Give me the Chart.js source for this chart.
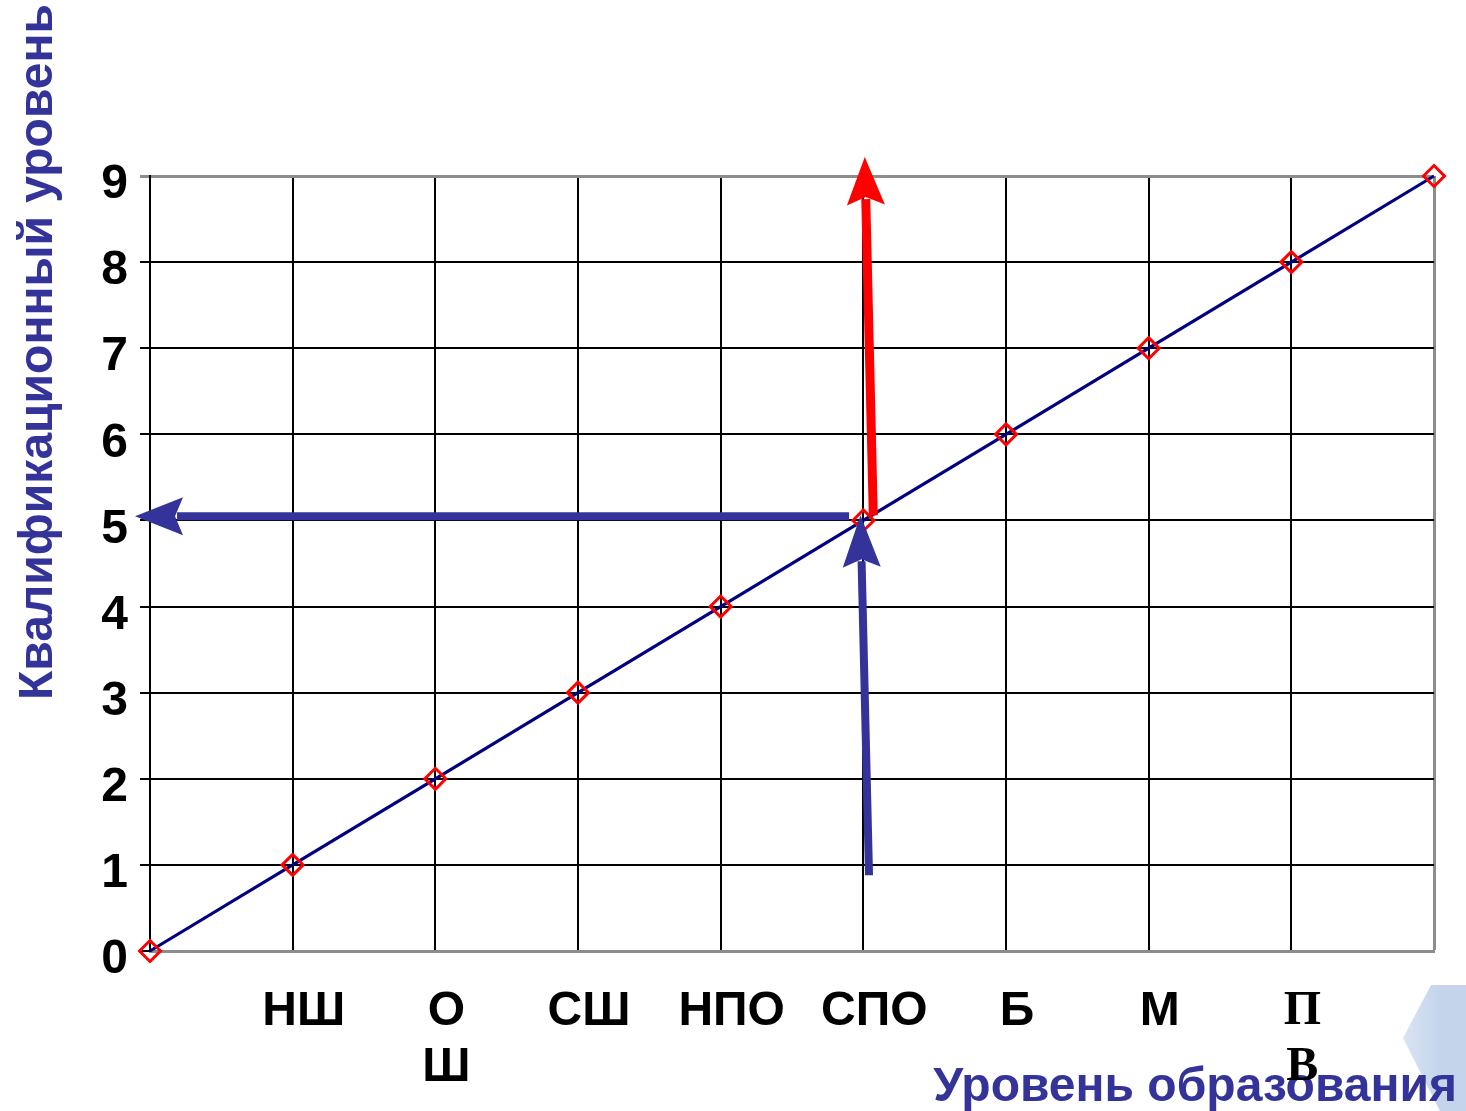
<!DOCTYPE html>
<html>
<head>
<meta charset="utf-8">
<script src="https://cdn.jsdelivr.net/npm/chart.js@4.4.1/dist/chart.umd.min.js"></script>
<style>
html,body{margin:0;padding:0;background:#fff;}
#wrap{width:1466px;height:1111px;position:relative;}
</style>
</head>
<body>
<div id="wrap"><canvas id="c"></canvas></div>
<script>
// categories (education levels) along x
const categories = ['', 'НШ', ['О', 'Ш'], 'СШ', 'НПО', 'СПО', 'Б', 'М', ['П', 'В'], ''];
// qualification level for each education level
const qualification = [0, 1, 2, 3, 4, 5, 6, 7, 8, 9];
// y tick values
const yTicks = [0, 1, 2, 3, 4, 5, 6, 7, 8, 9];
const yTitle = 'Квалификационный уровень';
const xTitle = 'Уровень образования';
// annotation arrows in data units: [fromX, fromY, toX, toY]
const arrowBlueH = [4.90, 5.05, -0.105, 5.05];
const arrowBlueV = [5.04, 0.88, 4.98, 5.06];
const arrowRed = [5.07, 5.06, 5.01, 9.22];

const TITLE_COLOR = '#333399';
const SANS = "'Liberation Sans', Arial, sans-serif";

function drawArrow(ctx, x1, y1, x2, y2, color, shaft, headLen, headW) {
  const ang = Math.atan2(y2 - y1, x2 - x1);
  const bx = x2 - Math.cos(ang) * headLen, by = y2 - Math.sin(ang) * headLen;
  ctx.save();
  ctx.strokeStyle = color; ctx.fillStyle = color;
  ctx.lineWidth = shaft; ctx.lineCap = 'butt';
  ctx.beginPath(); ctx.moveTo(x1, y1); ctx.lineTo(bx + Math.cos(ang) * 6, by + Math.sin(ang) * 6); ctx.stroke();
  const px = -Math.sin(ang), py = Math.cos(ang);
  ctx.beginPath();
  ctx.moveTo(x2, y2);
  ctx.lineTo(bx + px * headW / 2, by + py * headW / 2);
  ctx.lineTo(bx + Math.cos(ang) * 8, by + Math.sin(ang) * 8);
  ctx.lineTo(bx - px * headW / 2, by - py * headW / 2);
  ctx.closePath(); ctx.fill();
  ctx.restore();
}

const decor = {
  id: 'decor',
  beforeDraw(chart) {
    const ctx = chart.ctx;
    ctx.save();
    // light blue decorative shape bottom right
    const g = ctx.createLinearGradient(1402, 0, 1440, 0);
    g.addColorStop(0, '#dbe5f3'); g.addColorStop(1, '#c3d4eb');
    ctx.fillStyle = g;
    ctx.beginPath();
    ctx.moveTo(1431, 985); ctx.lineTo(1466, 985); ctx.lineTo(1466, 1111);
    ctx.lineTo(1440, 1111); ctx.lineTo(1403, 1038); ctx.closePath(); ctx.fill();
    // x title
    ctx.fillStyle = TITLE_COLOR;
    ctx.font = 'bold 48px ' + SANS;
    ctx.textAlign = 'right'; ctx.textBaseline = 'alphabetic';
    ctx.fillText(xTitle, 1457, 1101);
    // y title
    ctx.translate(52, 352);
    ctx.rotate(-Math.PI / 2);
    ctx.textAlign = 'center';
    ctx.fillText(yTitle, 0, 0);
    ctx.restore();
  },
  afterDatasetsDraw(chart) {
    const ctx = chart.ctx, xs = chart.scales.x, ys = chart.scales.y;
    const P = a => [xs.getPixelForValue(a[0]), ys.getPixelForValue(a[1]), xs.getPixelForValue(a[2]), ys.getPixelForValue(a[3])];
    let p = P(arrowBlueH); drawArrow(ctx, p[0], p[1], p[2], p[3], '#333399', 8, 48, 38);
    p = P(arrowBlueV); drawArrow(ctx, p[0], p[1], p[2], p[3], '#333399', 8, 52, 38);
    p = P(arrowRed); drawArrow(ctx, p[0], p[1], p[2], p[3], '#ff0000', 9, 48, 38);
  }
};

new Chart(document.getElementById('c'), {
  type: 'line',
  data: {
    labels: categories,
    datasets: [{
      data: qualification,
      borderColor: '#000080',
      borderWidth: 3.2,
      pointStyle: 'rectRot',
      pointRadius: 10.5,
      pointBorderColor: '#ff0000',
      pointBackgroundColor: 'rgba(255,255,255,0)',
      pointBorderWidth: 3,
      tension: 0,
      clip: false
    }]
  },
  options: {
    responsive: true,
    maintainAspectRatio: false,
    animation: false,
    devicePixelRatio: 1,
    layout: { padding: { left: 0, top: 176, right: 24, bottom: 0 } },
    plugins: { legend: { display: false }, tooltip: { enabled: false } },
    scales: {
      x: {
        type: 'category',
        offset: false,
        afterFit(s) { s.height = 160; },
        grid: {
          offset: false,
          drawTicks: false,
          color: ctx => (ctx.index === 9 ? '#8c8c8c' : '#000'),
          lineWidth: ctx => (ctx.index === 9 ? 3 : 2)
        },
        border: { color: '#8c8c8c', width: 3 },
        ticks: {
          autoSkip: false,
          maxRotation: 0,
          padding: 32,
          labelOffset: 11,
          color: '#000',
          font: ctx => (ctx.index === 8
            ? { family: "'Liberation Serif', 'Times New Roman', serif", size: 48, weight: 'bold', lineHeight: 1.18 }
            : { family: SANS, size: 48, weight: 'bold', lineHeight: 1.18 })
        }
      },
      y: {
        min: 0, max: 9,
        afterFit(s) { s.width = 150; },
        afterBuildTicks(s) { s.ticks = yTicks.map(v => ({ value: v })); },
        grid: {
          tickLength: 10,
          color: ctx => (ctx.tick && ctx.tick.value === 9 ? '#8c8c8c' : '#000'),
          lineWidth: ctx => (ctx.tick && ctx.tick.value === 9 ? 3 : 2)
        },
        border: { color: '#000', width: 2 },
        ticks: {
          padding: 12,
          labelOffset: 9,
          color: '#000',
          font: { family: SANS, size: 48, weight: 'bold' }
        }
      }
    }
  },
  plugins: [decor]
});
</script>
</body>
</html>
